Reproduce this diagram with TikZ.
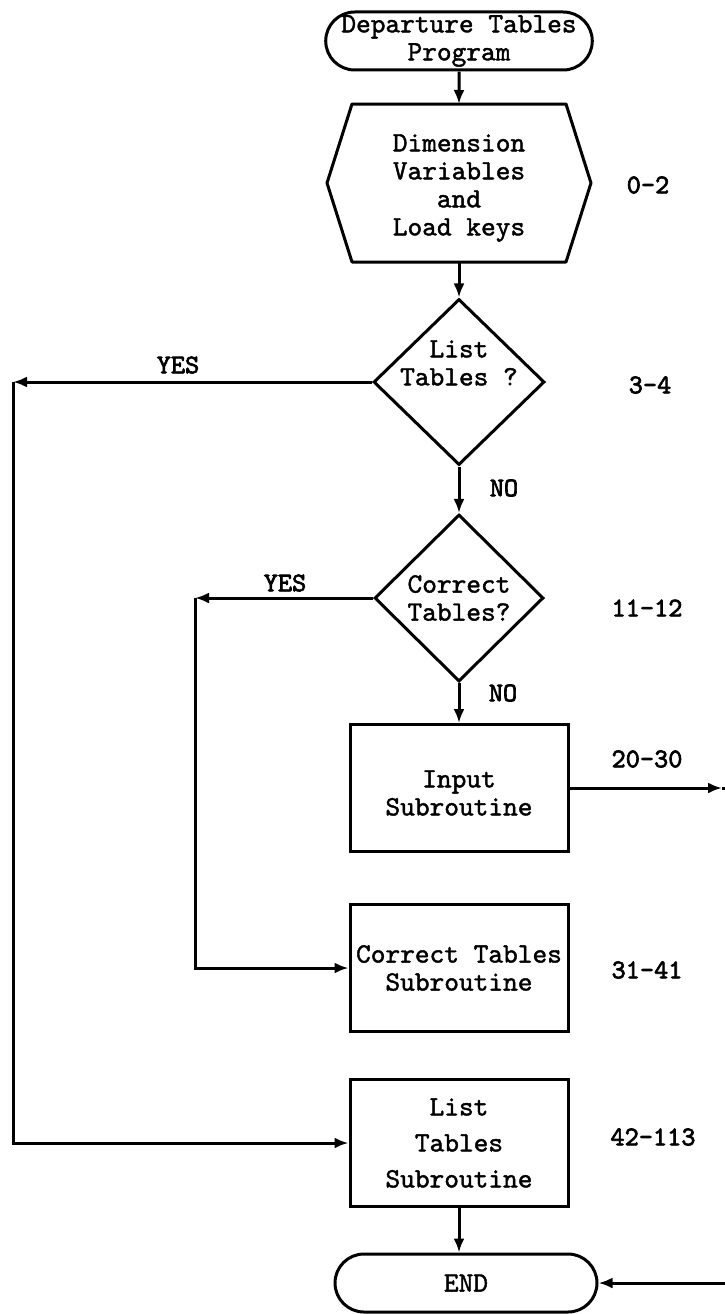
\documentclass[tikz,border=0pt]{standalone}
\usepackage{fontspec}
\newfontfamily\chartfont[FakeBold=1.5]{lmmono10-regular.otf}
\newfontfamily\notefont[FakeBold=2.5]{lmmono10-regular.otf}
\usetikzlibrary{shapes.geometric,shapes.misc,arrows.meta}

% Text im Symbol, um #1 verschoben
\newcommand{\shiftedtext}[2]{\raisebox{#1}[0pt][0pt]{\begin{tabular}{@{}c@{}}#2\end{tabular}}}

\tikzset{
	chartshape/.style={draw, line width=3pt, align=center, inner sep=0pt,
		font=\chartfont\fontsize{28}{28}\selectfont},
	terminal/.style={chartshape, rounded rectangle, minimum height=58pt},
	procbox/.style={chartshape, rectangle, minimum width=218pt, minimum height=127pt},
	decision/.style={chartshape, diamond, aspect=1},
	hexbox/.style={chartshape, draw=none, minimum width=261pt, minimum height=155pt},
	connector/.style={line width=3pt, -{Latex[length=14pt,width=11pt]}},
	plainline/.style={line width=3pt, line join=round},
	answer/.style={font=\notefont\fontsize{27}{27}\selectfont, inner sep=0pt},
	linenum/.style={font=\notefont\fontsize{27}{27}\selectfont, inner sep=0pt},
}

\begin{document}
\begin{tikzpicture}[x=1pt,y=-1pt]
	\useasboundingbox (0,0) rectangle (724,1314);
	% Symbole
	\node[terminal, minimum width=258pt] (start) at (459,41) {Departure Tables\\Program};
	\node[hexbox] (dim) at (459,183) {\shiftedtext{-11pt}{Dimension\\Variables\\and\\Load keys}};
	\draw[plainline] (dim.west) -- ([xshift=25pt]dim.north west)
		-- ([xshift=-25pt]dim.north east) -- (dim.east)
		-- ([xshift=-25pt]dim.south east) -- ([xshift=25pt]dim.south west) -- cycle;
	\node[decision, minimum width=171pt, minimum height=166pt] (list) at (459,382) {\shiftedtext{10pt}{List\\Tables ?}};
	\node[decision, minimum width=169pt, minimum height=167pt] (correct) at (459,598) {Correct\\Tables?};
	\node[procbox] (input) at (459,788) {\shiftedtext{-14pt}{Input\\Subroutine}};
	\node[procbox] (corrsub) at (459,968) {Correct Tables\\Subroutine};
	\node[procbox] (listsub) at (459,1143) {List\\[8pt]Tables\\[8pt]Subroutine};
	\node[terminal, minimum width=262pt] (end) at (466,1283) {END};

	% Eckpunkte
	\coordinate (yesL) at (13,382);
	\coordinate (yesC) at (195,598);
	\coordinate (outR) at (722,788);
	\coordinate (offR) at (760,788);

	% Verbindungen
	\draw[connector] (start) -- (dim);
	\draw[connector] (dim) -- (list);
	\draw[connector] (list) -- (correct);
	\draw[connector] (correct) -- (input);
	\draw[connector] (listsub.south) -- (listsub.south |- end.north);
	\draw[connector] (list.west) -- (yesL);
	\draw[connector] (yesL) |- (listsub.west);
	\draw[connector] (correct.west) -- (yesC);
	\draw[connector] (yesC) |- (corrsub.west);
	\draw[connector] (input.east) -- (outR);
	\draw[connector] (outR) -- (offR) |- (end.east);

	% Antworten
	\node[answer] (yes1) at (178,365) {YES};
	\node[answer] (no1) at (504,488) {NO};
	\node[answer] (yes2) at (285,583) {YES};
	\node[answer] (no2) at (503,693) {NO};

	% Zeilennummern
	\foreach \n/\x/\y/\txt in {a/648/185/0-2, b/650/385/3-4, c/647/608/11-12,
		d/647/759/20-30, e/647/970/31-41, f/653/1137/42-113}
		\node[linenum] (num\n) at (\x,\y) {\txt};
\end{tikzpicture}
\end{document}
